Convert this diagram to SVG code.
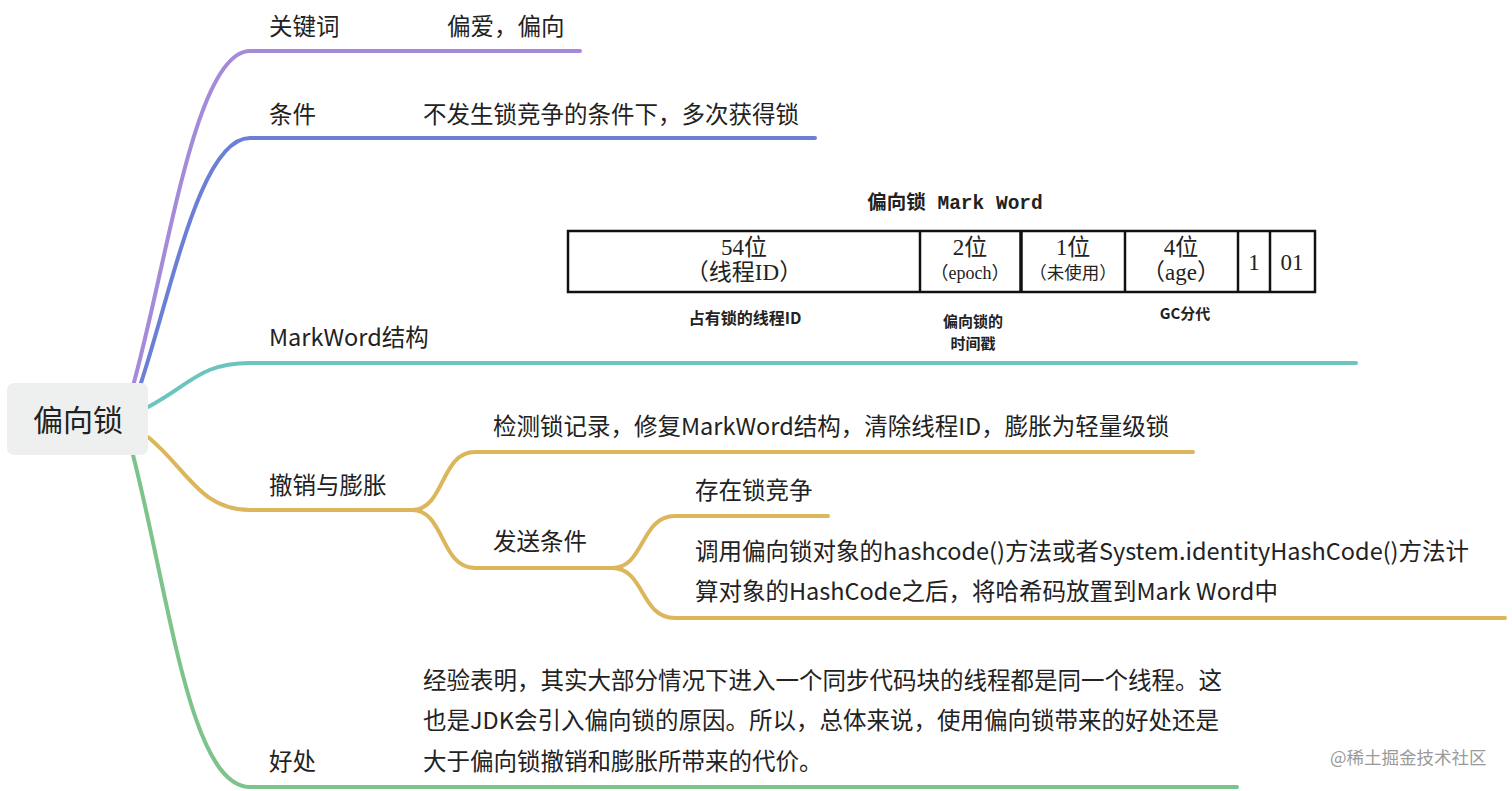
<svg xmlns="http://www.w3.org/2000/svg" width="1512" height="791" viewBox="0 0 1512 791">
<style>
.t{font-family:"Noto Sans CJK SC","Noto Sans",sans-serif;font-size:23.5px;fill:#222}
.b{fill:none;stroke-width:4;stroke-linecap:round}
.s{font-family:"Liberation Serif","Noto Sans CJK SC",serif;fill:#222;text-anchor:middle}
.m{font-family:"Noto Sans CJK SC",sans-serif;font-weight:bold;fill:#222;text-anchor:middle}
.cell{fill:#fff;stroke:#111;stroke-width:2.5}
</style>
<rect width="1512" height="791" fill="#fff"/>
<g id="connectors">
<path class="b" stroke="#a48ad9" d="M133,386 C168,260 195,51 250,51 L580,51"/>
<path class="b" stroke="#6b7fd6" d="M140,386 C172,290 200,138 250,138 L815,138"/>
<path class="b" stroke="#6cc4bf" d="M148,407 C190,385 200,363 250,363 L1356,363"/>
<path class="b" stroke="#dcb65b" d="M148,437 C188,470 200,510 250,510 L412,510"/>
<path class="b" stroke="#dcb65b" d="M412,510 C445,510 440,452 475,452 L1193,452"/>
<path class="b" stroke="#dcb65b" d="M412,510 C445,510 440,568 475,568 L612,568"/>
<path class="b" stroke="#dcb65b" d="M612,568 C645,568 640,516 675,516 L828,516"/>
<path class="b" stroke="#dcb65b" d="M612,568 C645,568 640,618 675,618 L1505,618"/>
<path class="b" stroke="#7cc48c" d="M133,455 C170,600 190,787 250,787 L1237,787"/>
</g>
<g id="root">
<rect x="7" y="383" width="141" height="72" rx="7" fill="#eef0ef"/>
<text class="t" x="78" y="431" style="font-size:30px" text-anchor="middle">偏向锁</text>
</g>
<g id="n-keyword">
<text class="t" x="269" y="35">关键词</text>
<text class="t" x="447" y="35">偏爱，偏向</text>
</g>
<g id="n-condition">
<text class="t" x="269" y="123">条件</text>
<text class="t" x="423" y="123">不发生锁竞争的条件下，多次获得锁</text>
</g>
<g id="n-markword">
<text class="t" x="269" y="346">MarkWord结构</text>
<g id="markword-figure">
<text x="955" y="209" text-anchor="middle" font-family="'Liberation Mono','Noto Sans CJK SC',monospace" font-size="19.5" font-weight="bold" fill="#222">偏向锁 Mark Word</text>
<rect class="cell" x="568" y="231" width="747" height="61"/>
<line x1="920" y1="231" x2="920" y2="292" stroke="#111" stroke-width="2.5"/>
<line x1="1021" y1="231" x2="1021" y2="292" stroke="#111" stroke-width="3.5"/>
<line x1="1125" y1="231" x2="1125" y2="292" stroke="#111" stroke-width="2.5"/>
<line x1="1238" y1="231" x2="1238" y2="292" stroke="#111" stroke-width="2.5"/>
<line x1="1270" y1="231" x2="1270" y2="292" stroke="#111" stroke-width="2.5"/>
<text class="s" x="744" y="255" font-size="23">54位</text>
<text class="s" x="744" y="280" font-size="23">（线程ID）</text>
<text class="s" x="970" y="255" font-size="23">2位</text>
<text class="s" x="970" y="279" font-size="18">（epoch）</text>
<text class="s" x="1073" y="255" font-size="23">1位</text>
<text class="s" x="1073" y="279" font-size="17.5">（未使用）</text>
<text class="s" x="1181" y="255" font-size="23">4位</text>
<text class="s" x="1181" y="280" font-size="23">（age）</text>
<text class="s" x="1254" y="270" font-size="23">1</text>
<text class="s" x="1292" y="270" font-size="23">01</text>
<text class="m" x="745" y="324" font-size="16">占有锁的线程ID</text>
<text class="m" x="973" y="327" font-size="15">偏向锁的</text>
<text class="m" x="973" y="349" font-size="15">时间戳</text>
<text class="m" x="1185" y="319" font-size="15">GC分代</text>
</g>
</g>
<g id="n-revoke">
<text class="t" x="269" y="494">撤销与膨胀</text>
</g>
<g id="n-revoke-detail">
<text class="t" x="493" y="435">检测锁记录，修复MarkWord结构，清除线程ID，膨胀为轻量级锁</text>
</g>
<g id="n-send">
<text class="t" x="493" y="550">发送条件</text>
</g>
<g id="n-contention">
<text class="t" x="695" y="499">存在锁竞争</text>
</g>
<g id="n-hashcode">
<text class="t" x="695" y="560">调用偏向锁对象的hashcode()方法或者System.identityHashCode()方法计</text>
<text class="t" x="695" y="600">算对象的HashCode之后，将哈希码放置到Mark Word中</text>
</g>
<g id="n-benefit">
<text class="t" x="269" y="770">好处</text>
<text class="t" x="423" y="689">经验表明，其实大部分情况下进入一个同步代码块的线程都是同一个线程。这</text>
<text class="t" x="423" y="729">也是JDK会引入偏向锁的原因。所以，总体来说，使用偏向锁带来的好处还是</text>
<text class="t" x="423" y="770">大于偏向锁撤销和膨胀所带来的代价。</text>
</g>
<text x="1330" y="764" font-family="'Noto Sans CJK SC',sans-serif" font-size="17.5" fill="#9a9a9a">@稀土掘金技术社区</text>
</svg>
